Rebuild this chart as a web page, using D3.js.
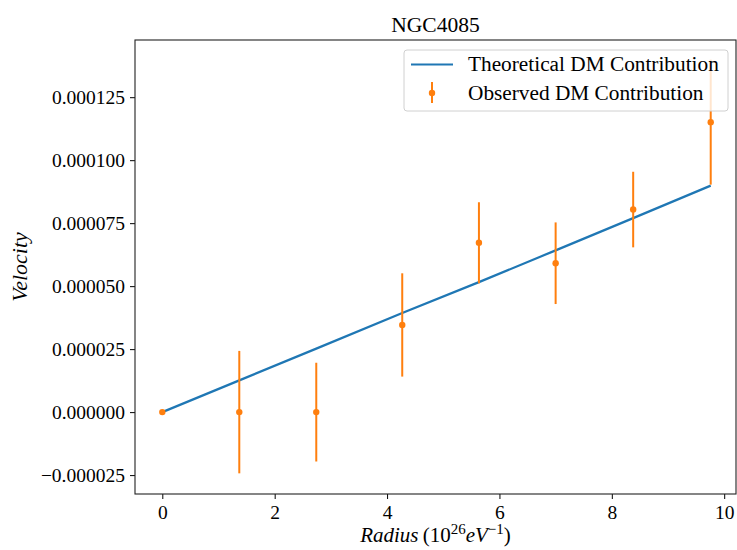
<!DOCTYPE html>
<html>
<head>
<meta charset="utf-8">
<script src="https://cdn.jsdelivr.net/npm/d3@7"></script>
<style>
  body { margin: 0; background: #fff; }
  text { font-family: "Liberation Serif", serif; fill: #000; }
</style>
</head>
<body>
<div class="chart"></div>
<script>
const radius = [0, 1.37, 2.74, 4.27, 5.635, 7.0, 8.38, 9.76];
const theoretical = [0, 12.6e-6, 25.2e-6, 39.3e-6, 51.6e-6, 64.2e-6, 77.0e-6, 89.9e-6];
const observed = [0, 0, 0, 34.6e-6, 67.2e-6, 59.1e-6, 80.4e-6, 115.1e-6];
const errors = [0, 24.3e-6, 19.6e-6, 20.5e-6, 16.1e-6, 16.2e-6, 15.0e-6, 24.8e-6];
const xTicks = [0, 2, 4, 6, 8, 10];
const yTicks = [-25e-6, 0, 25e-6, 50e-6, 75e-6, 100e-6, 125e-6];

const width = 737;
const height = 550;
const plotLeft = 135, plotTop = 40, plotRight = 736, plotBottom = 494;

const blue = '#1f77b4';
const orange = '#ff7f0e';

const svg = d3
  .select('.chart')
  .append('svg')
  .attr('width', width)
  .attr('height', height);

const x = d3.scaleLinear().domain([-0.486, 10.21]).range([plotLeft, plotRight]);
const y = d3.scaleLinear().domain([-32.5e-6, 147.7e-6]).range([plotBottom, plotTop]);

const points = radius.map((r, i) => ({
  r: r,
  theo: theoretical[i],
  obs: observed[i],
  err: errors[i]
}));

// axes
svg
  .append('g')
  .attr('transform', `translate(0,${plotBottom})`)
  .call(d3.axisBottom(x).tickValues(xTicks).tickSize(5).tickPadding(6).tickFormat(d3.format('d')))
  .call((g) => g.select('.domain').remove())
  .selectAll('text')
  .attr('font-size', 19.5);

svg
  .append('g')
  .attr('transform', `translate(${plotLeft},0)`)
  .call(d3.axisLeft(y).tickValues(yTicks).tickSize(5).tickPadding(5).tickFormat(d3.format('.6f')))
  .call((g) => g.select('.domain').remove())
  .selectAll('text')
  .attr('font-size', 19.5);

svg.selectAll('.tick line').attr('stroke', '#000').attr('stroke-width', 1);

// theoretical line
svg
  .append('path')
  .datum(points)
  .attr('fill', 'none')
  .attr('stroke', blue)
  .attr('stroke-width', 2.2)
  .attr('d', d3.line().x((d) => x(d.r)).y((d) => y(d.theo)));

// error bars
svg
  .selectAll('.err')
  .data(points)
  .enter()
  .append('line')
  .attr('class', 'err')
  .attr('x1', (d) => x(d.r))
  .attr('x2', (d) => x(d.r))
  .attr('y1', (d) => y(d.obs - d.err))
  .attr('y2', (d) => y(d.obs + d.err))
  .attr('stroke', orange)
  .attr('stroke-width', 2);

svg
  .selectAll('.dot')
  .data(points)
  .enter()
  .append('circle')
  .attr('class', 'dot')
  .attr('cx', (d) => x(d.r))
  .attr('cy', (d) => y(d.obs))
  .attr('r', 3.2)
  .attr('fill', orange);

// frame
svg
  .append('rect')
  .attr('x', plotLeft)
  .attr('y', plotTop)
  .attr('width', plotRight - plotLeft)
  .attr('height', plotBottom - plotTop)
  .attr('fill', 'none')
  .attr('stroke', '#222')
  .attr('stroke-width', 1.1);

// legend
const legend = svg.append('g').attr('transform', 'translate(404,50)');
legend
  .append('rect')
  .attr('width', 324)
  .attr('height', 61)
  .attr('rx', 3)
  .attr('fill', '#fff')
  .attr('fill-opacity', 0.8)
  .attr('stroke', '#d0d0d0');
legend
  .append('line')
  .attr('x1', 7)
  .attr('x2', 49)
  .attr('y1', 14.5)
  .attr('y2', 14.5)
  .attr('stroke', blue)
  .attr('stroke-width', 2.2);
legend
  .append('line')
  .attr('x1', 28)
  .attr('x2', 28)
  .attr('y1', 32)
  .attr('y2', 53)
  .attr('stroke', orange)
  .attr('stroke-width', 2);
legend
  .append('circle')
  .attr('cx', 28)
  .attr('cy', 43)
  .attr('r', 3.2)
  .attr('fill', orange);
legend
  .append('text')
  .attr('x', 64)
  .attr('y', 21)
  .attr('font-size', 21.3)
  .text('Theoretical DM Contribution');
legend
  .append('text')
  .attr('x', 64)
  .attr('y', 50)
  .attr('font-size', 21.3)
  .text('Observed DM Contribution');

// title
svg
  .append('text')
  .attr('x', (plotLeft + plotRight) / 2)
  .attr('y', 32)
  .attr('text-anchor', 'middle')
  .attr('font-size', 21.5)
  .text('NGC4085');

// x label
const xl = svg
  .append('text')
  .attr('x', (plotLeft + plotRight) / 2)
  .attr('y', 542)
  .attr('text-anchor', 'middle')
  .attr('font-size', 21);
xl.append('tspan').attr('font-style', 'italic').text('Radius');
xl.append('tspan').text('\u2009(10');
xl.append('tspan').attr('font-size', 15).attr('dy', -8).text('26');
xl.append('tspan').attr('font-style', 'italic').attr('dy', 8).text('eV');
xl.append('tspan').attr('font-size', 15).attr('dy', -8).text('\u22121');
xl.append('tspan').attr('dy', 8).text(')');

// y label
svg
  .append('text')
  .attr('transform', `translate(27,${(plotTop + plotBottom) / 2}) rotate(-90)`)
  .attr('text-anchor', 'middle')
  .attr('font-size', 22)
  .attr('font-style', 'italic')
  .text('Velocity');
</script>
</body>
</html>
